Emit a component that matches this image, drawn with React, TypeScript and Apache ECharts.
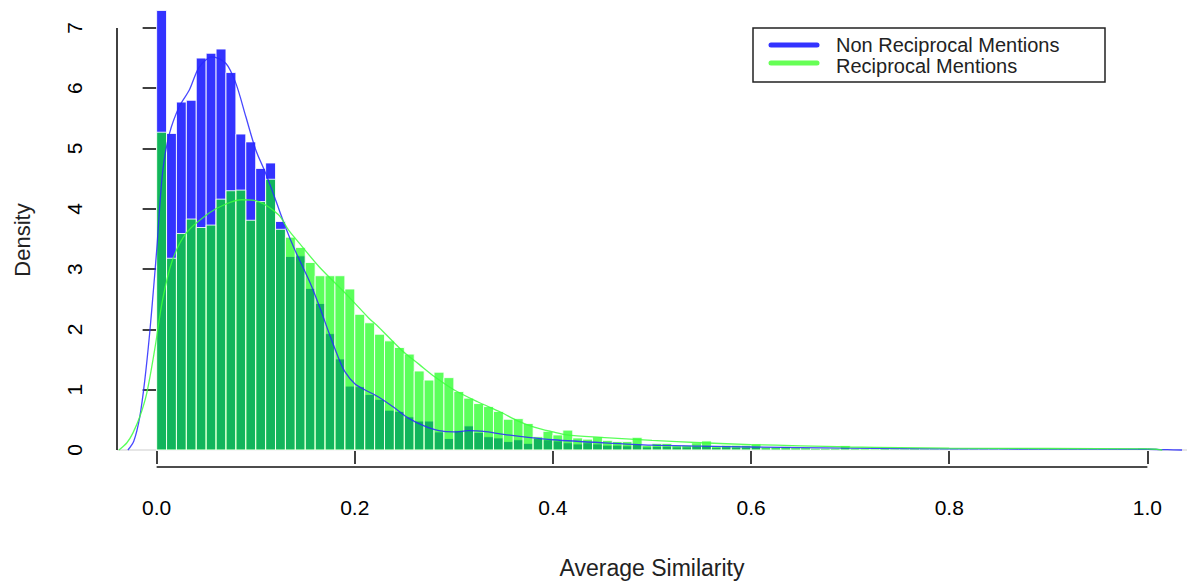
import React, { useEffect, useRef } from "react";
import * as echarts from "echarts";

const BIN_WIDTH = 0.01;

// Histogram densities per 0.01-wide bin starting at 0.00
const nonReciprocal = [
  7.29, 5.25, 5.77, 5.8, 6.5, 6.58, 6.65, 6.26, 5.24, 5.11,
  4.67, 4.76, 3.79, 3.21, 3.22, 2.68, 2.43, 1.93, 1.51, 1.06,
  1.05, 0.92, 0.84, 0.66, 0.64, 0.55, 0.48, 0.48, 0.3, 0.19,
  0.32, 0.4, 0.29, 0.22, 0.2, 0.14, 0.17, 0.11, 0.19, 0.17,
  0.15, 0.12, 0.1, 0.12, 0.1, 0.08, 0.08, 0.07, 0.09, 0.05,
  0.06, 0.06, 0.05, 0.05, 0.06, 0.07, 0.04, 0.05, 0.04, 0.04,
  0.05, 0.03, 0.03, 0.03, 0.02, 0.02, 0.02, 0.02, 0.02, 0.03,
  0.02, 0.01, 0.01, 0.02, 0.01, 0.01, 0.01, 0.01, 0.01, 0.01,
  0.01, 0.01, 0.01, 0.01, 0.01, 0.01, 0.01, 0.01, 0.01, 0.01,
  0.01, 0.01, 0.01, 0.01, 0.01, 0.01, 0.01, 0.01, 0.01, 0.03,
  0.03,
];

const reciprocal = [
  5.27, 3.18, 3.59, 3.83, 3.69, 3.73, 4.16, 4.3, 4.31, 3.81,
  4.12, 4.49, 3.66, 3.53, 3.36, 3.11, 2.89, 2.89, 2.89, 2.67,
  2.25, 2.11, 1.92, 1.81, 1.7, 1.59, 1.31, 1.16, 1.29, 1.2,
  0.97, 0.86, 0.77, 0.72, 0.64, 0.51, 0.52, 0.44, 0.22, 0.31,
  0.25, 0.33, 0.2, 0.18, 0.22, 0.16, 0.14, 0.14, 0.21, 0.08,
  0.11, 0.11, 0.08, 0.08, 0.12, 0.15, 0.07, 0.08, 0.08, 0.08,
  0.1, 0.05, 0.05, 0.06, 0.04, 0.04, 0.03, 0.03, 0.03, 0.07,
  0.03, 0.03, 0.02, 0.03, 0.02, 0.02, 0.03, 0.02, 0.02, 0.02,
  0.02, 0.02, 0.02, 0.02, 0.02, 0.02, 0.02, 0.02, 0.02, 0.02,
  0.02, 0.02, 0.02, 0.02, 0.02, 0.02, 0.02, 0.02, 0.02, 0.03,
  0.03,
];

// Kernel density curves
const nonRecDensityX = [
  -0.029, -0.023, -0.017, -0.012, -0.007, -0.003, 0.0, 0.006, 0.013, 0.023,
  0.033, 0.043, 0.056, 0.07, 0.08, 0.09, 0.1, 0.11, 0.12, 0.13,
  0.14, 0.155, 0.165, 0.174, 0.183, 0.19, 0.2, 0.21, 0.224, 0.24,
  0.255, 0.27, 0.285, 0.3, 0.315, 0.33, 0.35, 0.375, 0.4, 0.45,
  0.5, 0.55, 0.6, 0.7, 0.8, 0.9, 1.0, 1.02, 1.035,
];
const nonRecDensityY = [
  0, 0.15, 0.55, 1.15, 1.94, 2.7, 3.3, 4.6, 5.25, 5.7,
  5.97, 6.35, 6.52, 6.41, 6.08, 5.53, 4.98, 4.59, 4.15, 3.7,
  3.3, 2.77, 2.35, 1.94, 1.55, 1.3, 1.1, 1.0, 0.88, 0.7,
  0.52, 0.4, 0.32, 0.3, 0.32, 0.31, 0.26, 0.21, 0.17, 0.12,
  0.08, 0.065, 0.05, 0.03, 0.02, 0.015, 0.012, 0.005, 0,
];

const recDensityX = [
  -0.038, -0.03, -0.024, -0.017, -0.01, -0.002, 0.006, 0.016, 0.03, 0.053,
  0.07, 0.086, 0.103, 0.123, 0.133, 0.144, 0.164, 0.194, 0.214, 0.224,
  0.247, 0.265, 0.281, 0.3, 0.324, 0.347, 0.365, 0.381, 0.4, 0.414,
  0.448, 0.5, 0.55, 0.6, 0.65, 0.7, 0.75, 0.8, 0.9, 1.0,
  1.01, 1.015,
];
const recDensityY = [
  0, 0.12, 0.28, 0.55, 0.94, 1.66, 2.49, 3.15, 3.6, 3.93,
  4.08, 4.15, 4.12, 3.9, 3.65, 3.43, 3.04, 2.54, 2.19, 2.04,
  1.66, 1.42, 1.21, 1.0, 0.8, 0.63, 0.48, 0.38, 0.3, 0.25,
  0.21, 0.16, 0.12, 0.09, 0.07, 0.05, 0.04, 0.03, 0.025, 0.02,
  0.01, 0,
];

const xTicks = [0, 0.2, 0.4, 0.6, 0.8, 1.0];
const yTicks = [0, 1, 2, 3, 4, 5, 6, 7];

const seriesNames = ["Non Reciprocal Mentions", "Reciprocal Mentions"];

const X_MIN = -0.04;
const X_MAX = 1.04;
const Y_MIN = -0.282;
const Y_MAX = 7.463;

const FONT = "'Liberation Sans', Arial, Helvetica, sans-serif";

function makeBars(name: string, values: number[], fill: string) {
  return {
    name,
    type: "custom",
    silent: true,
    data: values.map((v, i) => [i * BIN_WIDTH, v]),
    encode: { x: 0, y: 1 },
    renderItem: (_params: any, api: any) => {
      const x0 = api.value(0);
      const h = api.value(1);
      const a = api.coord([x0, 0]);
      const b = api.coord([x0 + BIN_WIDTH, h]);
      return {
        type: "rect",
        shape: { x: a[0], y: b[1], width: b[0] - a[0], height: a[1] - b[1] },
        style: { fill, stroke: "rgba(255,255,255,0.85)", lineWidth: 1 },
      };
    },
  };
}

function zip(xs: number[], ys: number[]) {
  return xs.map((x, i) => [x, ys[i]]);
}

export default function App() {
  const ref = useRef<HTMLDivElement>(null);
  useEffect(() => {
    if (!ref.current) return;
    const chart = echarts.init(ref.current, null, { renderer: "svg" });
    chart.setOption({
      animation: false,
      backgroundColor: "#ffffff",
      grid: { left: 117, top: 0, width: 1076, height: 467 },
      xAxis: {
        type: "value",
        min: X_MIN,
        max: X_MAX,
        axisLine: { show: false },
        splitLine: { show: false },
        axisTick: {
          show: true,
          customValues: xTicks,
          length: 14,
          lineStyle: { color: "#111", width: 1.6 },
        },
        axisLabel: {
          customValues: xTicks,
          formatter: (v: number) => v.toFixed(1),
          fontSize: 21,
          fontFamily: FONT,
          color: "#000",
          margin: 30,
        },
      },
      yAxis: {
        type: "value",
        min: Y_MIN,
        max: Y_MAX,
        axisLine: { show: false },
        splitLine: { show: false },
        axisTick: {
          show: true,
          customValues: yTicks,
          length: 14,
          lineStyle: { color: "#111", width: 1.6 },
        },
        axisLabel: {
          customValues: yTicks,
          rotate: 90,
          fontSize: 21,
          fontFamily: FONT,
          color: "#000",
          margin: 32,
        },
      },
      series: [
        {
          type: "line",
          silent: true,
          symbol: "none",
          data: [
            [X_MIN, 0],
            [X_MAX, 0],
          ],
          lineStyle: { color: "#e6e6e6", width: 2 },
          z: 1,
        },
        makeBars(seriesNames[0], nonReciprocal, "rgba(0,0,255,0.8)"),
        makeBars(seriesNames[1], reciprocal, "rgba(0,255,0,0.64)"),
        {
          name: seriesNames[0] + " density",
          type: "line",
          silent: true,
          symbol: "none",
          smooth: 0.3,
          data: zip(nonRecDensityX, nonRecDensityY),
          lineStyle: { color: "rgba(40,40,255,0.85)", width: 1.3 },
          z: 3,
        },
        {
          name: seriesNames[1] + " density",
          type: "line",
          silent: true,
          symbol: "none",
          smooth: 0.3,
          data: zip(recDensityX, recDensityY),
          lineStyle: { color: "rgba(60,255,60,0.85)", width: 1.3 },
          z: 3,
        },
        {
          type: "line",
          silent: true,
          symbol: "none",
          clip: false,
          data: [
            [X_MIN, 0],
            [X_MIN, 7],
          ],
          lineStyle: { color: "#111", width: 1.6 },
          z: 4,
        },
        {
          type: "line",
          silent: true,
          symbol: "none",
          clip: false,
          data: [
            [0, Y_MIN],
            [1, Y_MIN],
          ],
          lineStyle: { color: "#111", width: 1.6 },
          z: 4,
        },
      ],
      graphic: [
        {
          type: "text",
          x: 22,
          y: 240,
          rotation: Math.PI / 2,
          style: {
            text: "Density",
            fontSize: 22,
            fontFamily: FONT,
            fill: "#222",
            align: "center",
            verticalAlign: "middle",
          },
        },
        {
          type: "text",
          x: 652,
          y: 568,
          style: {
            text: "Average Similarity",
            fontSize: 23,
            fontFamily: FONT,
            fill: "#222",
            align: "center",
            verticalAlign: "middle",
          },
        },
        {
          type: "group",
          z: 100,
          children: [
            {
              type: "rect",
              shape: { x: 753, y: 28, width: 352, height: 54 },
              style: { fill: "#fff", stroke: "#222", lineWidth: 1.5 },
            },
            {
              type: "line",
              shape: { x1: 771, y1: 45, x2: 817, y2: 45 },
              style: { stroke: "#3333ff", lineWidth: 5, lineCap: "round" },
            },
            {
              type: "line",
              shape: { x1: 771, y1: 63, x2: 817, y2: 63 },
              style: { stroke: "#66ff55", lineWidth: 5, lineCap: "round" },
            },
            {
              type: "text",
              x: 836,
              y: 45,
              style: {
                text: seriesNames[0],
                fontSize: 20,
                fontFamily: FONT,
                fill: "#222",
                align: "left",
                verticalAlign: "middle",
              },
            },
            {
              type: "text",
              x: 836,
              y: 66,
              style: {
                text: seriesNames[1],
                fontSize: 20,
                fontFamily: FONT,
                fill: "#222",
                align: "left",
                verticalAlign: "middle",
              },
            },
          ],
        },
      ],
    });
    return () => chart.dispose();
  }, []);
  return (
    <div
      ref={ref}
      style={{ position: "fixed", left: 0, top: 0, width: 1187, height: 583 }}
    />
  );
}
